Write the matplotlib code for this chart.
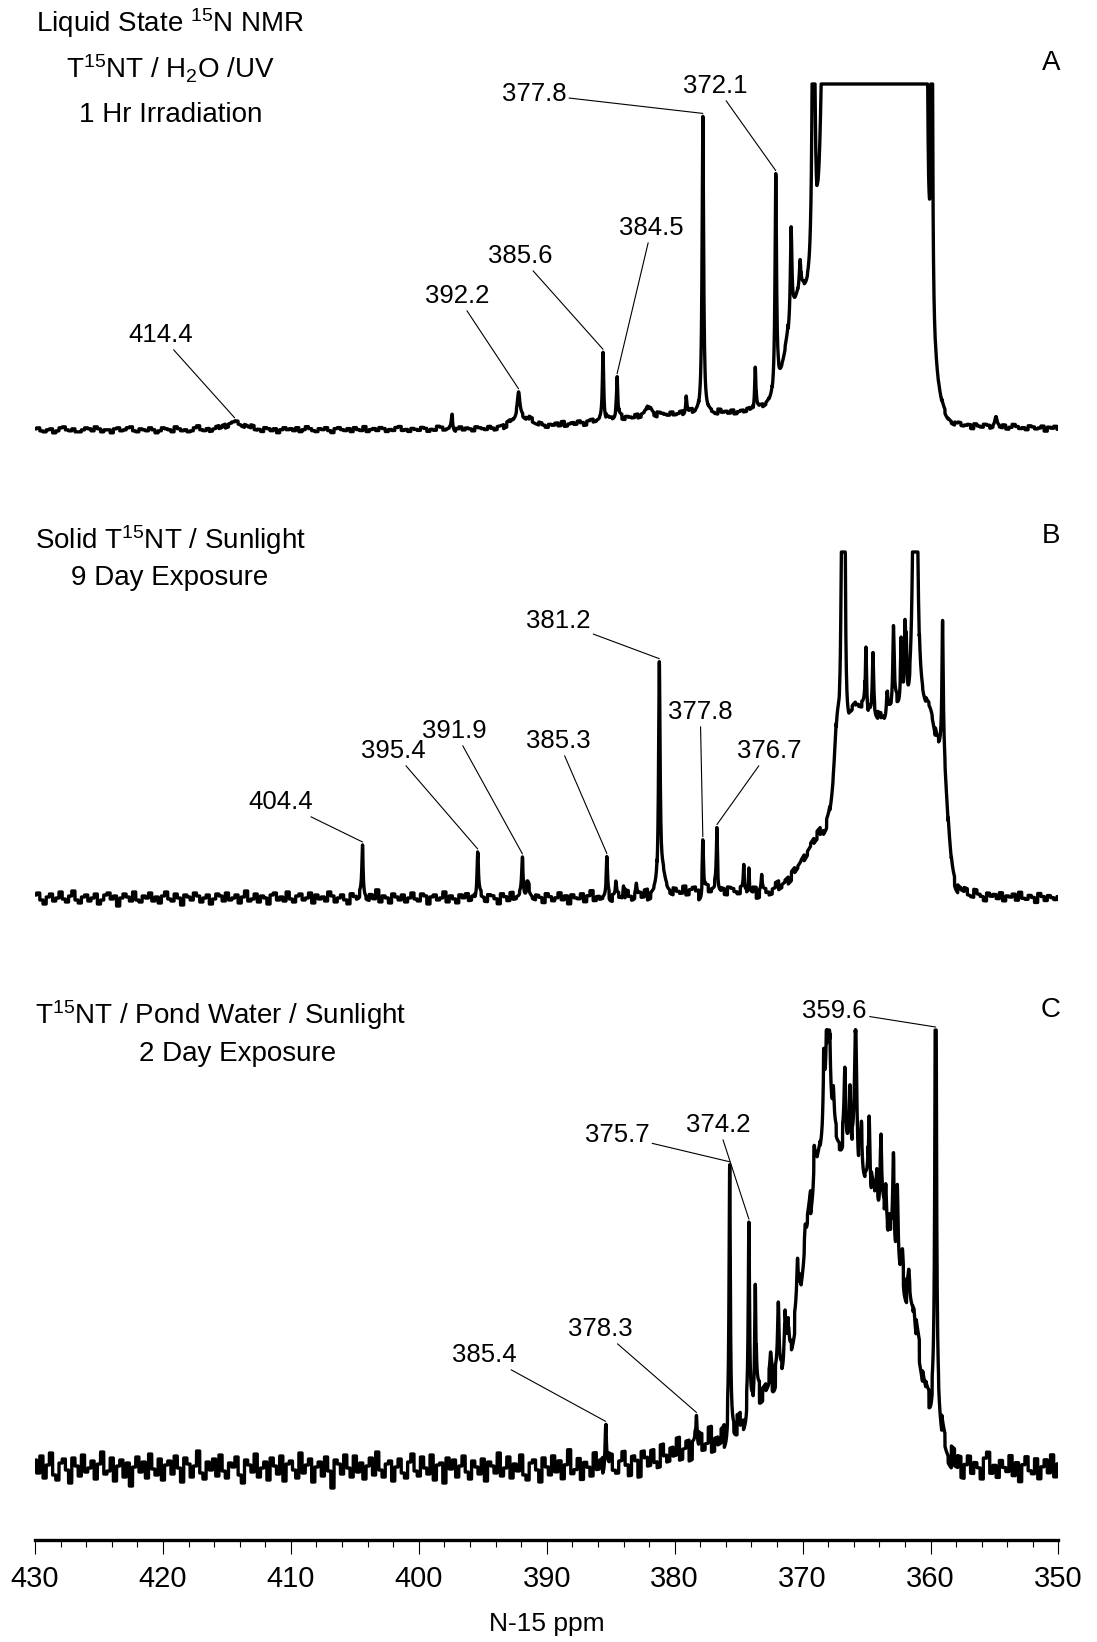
import numpy as np
import matplotlib.pyplot as plt
from matplotlib.ticker import MultipleLocator

plt.rcParams['font.family'] = ['Liberation Sans Narrow', 'Liberation Sans', 'DejaVu Sans']
plt.rcParams['mathtext.fontset'] = 'custom'
plt.rcParams['mathtext.rm'] = 'Liberation Sans'
plt.rcParams['mathtext.it'] = 'Liberation Sans:italic'
plt.rcParams['mathtext.bf'] = 'Liberation Sans:bold'

# --- spectrum A: liquid state, 1 hr UV ---
# sharp lines (ppm, height, half width) - lorentzian
a_lines = [(397.4, 14, 0.07), (392.2, 24, 0.12), (385.6, 70, 0.06), (384.5, 42, 0.06),
           (382.0, 10, 0.25), (379.1, 16, 0.06), (377.8, 295, 0.07), (373.7, 45, 0.06),
           (372.1, 215, 0.07), (370.9, 95, 0.07), (370.2, 30, 0.07), (369.15, 600, 0.08),
           (368.35, 600, 0.08), (368.0, 60, 3.0), (360.32, 600, 0.05), (359.9, 600, 0.05),
           (354.9, 10, 0.1)]
# broad bands (ppm, height, sigma) - gaussian
a_bands = [(414.4, 7, 0.8), (392.0, 10, 0.8), (380.0, 12, 6.0), (370.3, 90, 0.9),
           (366.0, 1800, 1.2), (362.8, 2000, 1.2)]
# baseline noise, one value every 0.25 ppm from 430 down to 350
a_noise = [1, 2, -1, -2, 0, 1, -3, -1, 2, 3, 0, -1, 1, -2, -2, 0, 2, 1, -1, 3,
           1, -2, 0, 0, -3, 1, 2, -1, 0, 2, 3, -1, -2, 1, 0, -1, 2, 0, -3, -1,
           2, 1, 0, -2, 3, 1, -1, 0, -2, -1, 2, 4, 0, -1, 1, -2, 0, 2, -1, 1,
           -3, 0, 1, 2, -1, -2, 1, 0, 3, -1, 0, -2, 2, 1, -1, 1, -3, 0, 2, 0,
           1, -1, 2, -2, 0, 3, 1, -1, -2, 1, 0, 2, -1, -3, 1, 2, 0, -1, 1, -2,
           2, 0, -1, 3, -2, 0, 1, -1, 2, 1, -2, 0, -1, 2, 3, -1, 0, -2, 1, 0,
           -1, 2, 1, -2, 0, -1, 3, 2, -1, 0, 1, -3, 0, 2, -1, 1, 0, -2, 2, 1,
           0, -1, 2, 0, -2, 1, 1, -3, 2, 0, -1, 2, 1, -2, 0, 3, -1, -1, 2, 0,
           -2, 1, 0, 2, -1, 3, -2, 0, 1, -1, 2, 0, -3, 1, 2, -1, 0, 1, -2, 2,
           1, -1, 0, 3, -2, 1, 0, -1, 2, -2, 1, 2, -1, 0, -3, 2, 1, 0, -1, 2,
           -1, 0, 2, -2, 1, 3, -1, 0, -2, 2, 0, 1, -1, -2, 3, 0, 1, -1, 2, -2,
           0, 1, -1, 2, 0, -3, 1, 2, -1, 1, 0, -2, 2, -1, 0, 3, -2, 1, 0, -1,
           2, -1, 1, 0, -2, 2, 1, -3, 0, 2, -1, 1, 0, -2, 3, 1, -1, 0, 2, -1,
           0, -2, 1, 2, -1, 0, 3, -1, -2, 1, 0, 2, -1, 1, -3, 0, 2, 1, -1, 0,
           2, -2, 0, 1, 3, -1, 0, -2, 1, 2, -1, 0, 1, -3, 2, 0, -1, 2, 1, -2,
           0, 1, -1, 2, -2, 0, 3, 1, -1, 0, -2, 2, 1, -1, 0, 2, -3, 1, 0, 2, -1]
a_labels = ['377.8', '372.1', '385.6', '384.5', '392.2', '414.4']
a_label_xy = [(391.0, 1446), (376.8, 1454), (392.1, 1284), (381.8, 1312), (397.0, 1244), (420.2, 1205)]

# --- spectrum B: solid, sunlight 9 days ---
b_lines = [(404.4, 48, 0.06), (395.4, 48, 0.06), (391.9, 36, 0.07), (391.5, 10, 0.2),
           (385.3, 38, 0.06), (384.6, 12, 0.05), (384.0, 14, 0.05), (383.0, 12, 0.06),
           (381.2, 230, 0.07), (380.9, 15, 0.25), (377.8, 48, 0.05), (376.7, 56, 0.05),
           (374.6, 26, 0.04), (374.2, 26, 0.04), (373.2, 16, 0.05), (367.3, 80, 0.3),
           (366.9, 500, 0.06), (366.75, 500, 0.06), (365.05, 70, 0.06), (364.5, 60, 0.06),
           (363.4, 25, 0.06), (362.9, 80, 0.06), (362.3, 60, 0.06), (362.0, 70, 0.06),
           (361.9, 50, 0.06), (361.2, 700, 0.12), (359.06, 130, 0.06), (359.0, 20, 1.0)]
b_bands = [(377.0, 8, 3.0), (370.8, 10, 1.2), (368.5, 55, 1.3), (366.0, 150, 0.9),
           (364.3, 130, 0.9), (362.5, 160, 0.9), (360.6, 150, 0.8), (359.8, 60, 0.4),
           (359.0, 90, 0.35)]
b_noise = [3, 5, -2, -6, 1, 4, -3, 0, 6, -1, -4, 2, 7, -2, -5, 1, 3, -3, 0, 4,
           -6, -2, 3, 5, -1, 2, -8, 0, 4, 1, -3, 6, -2, -4, 2, 0, 5, -3, 1, -5,
           2, 6, -1, -3, 4, 0, -7, 3, 1, -2, 5, 2, -4, 0, 3, -6, -1, 4, 2, -3,
           5, -2, 0, 3, -5, 1, 7, -3, -1, 4, -4, 2, 0, -6, 3, 5, -2, 1, -3, 6,
           -1, -4, 2, 4, -2, 0, 5, -5, 3, -1, 1, -3, 6, 2, -4, 0, 3, -2, -6, 4,
           1, -2, 5, 0, -3, 3, -1, 8, -4, 2, 0, -5, 4, 1, -2, 3, -4, 0, 5, -1,
           -3, 4, 2, -6, 1, 3, -2, 0, 6, -4, 2, -1, -5, 3, 0, 4, -3, 1, -2, 5,
           0, -4, 3, 2, -1, -6, 4, 1, -3, 5, -2, 0, 3, -4, 6, -1, -3, 2, 0, -5,
           4, 1, -3, 0, 5, -2, 2, -6, 3, 0, -1, 4, -4, 2, 7, -3, 1, -2, 0, 3,
           -5, 2, 4, -1, -3, 6, 0, -4, 1, 3, -2, 5, -6, 0, 2, -3, 4, 1, -1, -4,
           3, 0, -2, 5, -4, 1, 3, -1, -11, 2, 4, -3, 0, 6, -2, 1, -5, 3, 2, -1,
           -3, 4, 1, -2, 0, 5, -6, 2, 3, -1, -4, 1, 6, -3, 0, 2, -5, 4, -1, 1,
           2, -4, 0, 3, -2, 6, -1, -5, 4, 0, 2, -3, 1, 5, -4, -1, 3, 0, -2, 4,
           -6, 1, 3, -2, 5, 0, -3, 2, -1, 4, -5, 3, 0, -2, 6, 1, -4, 2, -1, 3,
           0, -3, 5, -1, 2, -4, 1, 3, -6, 2, 0, 4, -2, -3, 5, 1, -1, -5, 3, 0,
           2, -2, 4, -4, 1, 0, 3, -3, 5, -1, -2, 2, 0, -5, 4, 1, -3, 2, 0, -2, 1]
b_labels = ['381.2', '377.8', '376.7', '385.3', '391.9', '395.4', '404.4']
b_label_xy = [(389.1, 919), (378.0, 828), (372.6, 789), (389.1, 799), (397.2, 809), (402.0, 789), (410.8, 738)]

# --- spectrum C: pond water, sunlight 2 days ---
c_lines = [(385.4, 50, 0.06), (378.3, 33, 0.06), (375.7, 265, 0.06), (374.2, 185, 0.06),
           (373.7, 125, 0.06), (372.5, 20, 0.07), (371.9, 65, 0.07), (371.4, 45, 0.07),
           (371.1, 25, 0.07), (370.4, 40, 0.07), (369.8, 20, 0.07), (369.1, 25, 0.07),
           (368.35, 60, 0.07), (368.1, 60, 0.1), (367.95, 130, 0.12), (367.6, 30, 0.07),
           (366.7, 67, 0.07), (366.3, 70, 0.07), (365.85, 150, 0.1), (365.4, 35, 0.07),
           (364.8, 80, 0.07), (364.2, 30, 0.07), (363.9, 75, 0.07), (363.5, 40, 0.06),
           (363.2, 30, 0.07), (362.9, 90, 0.07), (362.6, 80, 0.07), (362.2, 25, 0.07),
           (361.7, 20, 0.07), (361.3, 15, 0.07), (359.6, 600, 0.06), (359.5, 40, 0.5)]
c_bands = [(376.0, 25, 4.0), (371.8, 70, 1.8), (368.8, 230, 1.2), (366.6, 230, 1.3),
           (364.0, 220, 1.4), (361.5, 110, 1.0)]
c_noise = [8, -5, 12, -10, 3, 15, -7, -12, 5, 9, -2, -15, 10, 2, -8, 13, -4, 0, 7, -11,
           4, 16, -6, -3, 10, -13, 2, 8, -9, 5, -18, 1, 11, -4, 6, -10, 14, -1, -7, 9,
           -12, 3, 7, -6, 12, 0, -14, 10, 4, -9, 2, 17, -5, -11, 6, -2, 9, -8, 13, -3,
           -10, 5, 1, 11, -7, -15, 8, 3, -4, 14, -9, 0, 6, -12, 10, 2, -6, 12, -13, 4,
           7, -2, -10, 15, -5, 3, 9, -14, 1, 6, -8, 11, -3, -20, 8, 4, -6, 13, 0, -9,
           12, -4, 5, -11, 2, 10, -7, 16, -2, -9, 4, 7, -13, 1, 9, -5, -10, 6, 14, -3,
           -8, 11, 0, -6, 13, -12, 3, 5, -15, 10, -1, 8, -9, 2, 12, -4, -11, 7, 1, -6,
           9, -13, 6, 2, -5, 15, -8, 0, 11, -10, 4, -3, 13, -7, -12, 5, 8, -2, -14, 10,
           1, -7, 12, -4, 7, -11, 3, 18, -6, -2, 9, -12, 5, 0, -9, 14, -3, 6, -10, 2,
           11, -5, -8, 4, 13, -1, -12, 7, 2, -15, 10, 3, -6, 9, -4, -10, 12, 0, -7, 6,
           -3, 14, -9, 1, 8, -13, 5, -2, 11, -6, 0, 16, -10, 3, -5, 9, -14, 6, 2, -8,
           12, -1, -11, 7, 3, -6, 13, -9, 4, -3, 10, -16, 6, 1, -8, 12, -2, -12, 9, 5,
           -7, 2, 10, -14, 6, 0, -5, 15, -10, 3, 8, -4, -11, 11, 1, -7, 6, -13, 13, -2,
           4, -9, 8, -1, -12, 14, 2, -6, 10, -8, 0, 5, -15, 9, 3, -3, 12, -10, 1, 7,
           -11, 6, 3, -5, 11, -2, -9, 13, -4, 8, -13, 1, 10, -7, 4, -1, -12, 9, 15, -6,
           2, -10, 7, 0, -4, 12, -8, 5, -14, 3, 11, -3, -6, 9, -11, 1, 8, -5, 13, -9, 4]
c_labels = ['359.6', '375.7', '374.2', '378.3', '385.4']
c_label_xy = [(367.5, 529), (384.5, 405), (376.6, 415), (385.8, 211), (394.9, 185)]

ppm = np.linspace(430, 350, 8001)


def spectrum(lines, bands, noise, clip):
    y = np.zeros_like(ppm)
    for c, h, w in lines:
        y += h * w**2 / ((ppm - c)**2 + w**2)
    for c, h, s in bands:
        y += h * np.exp(-0.5 * ((ppm - c) / s)**2)
    idx = np.round((430 - ppm) / 80 * (len(noise) - 1)).astype(int)
    y += np.asarray(noise, dtype=float)[idx]
    return np.minimum(y, clip)


fig = plt.figure(figsize=(10.97, 16.42), dpi=100)
ax = fig.add_axes([0.0319, 0.0621, 0.933, 0.9379])

panels = [
    (a_lines, a_bands, a_noise, 346, 1110, a_labels, a_label_xy, 'A', 1477,
     [('Liquid State $^{15}$N NMR', 419.4, 1517), ('T$^{15}$NT / H$_2$O /UV', 419.4, 1471),
      ('1 Hr Irradiation', 419.4, 1425)]),
    (b_lines, b_bands, b_noise, 346, 642, b_labels, b_label_xy, 'B', 1004,
     [('Solid T$^{15}$NT / Sunlight', 419.4, 1000), ('9 Day Exposure', 419.5, 962)]),
    (c_lines, c_bands, c_noise, 438, 72, c_labels, c_label_xy, 'C', 530,
     [('T$^{15}$NT / Pond Water / Sunlight', 415.5, 525), ('2 Day Exposure', 414.2, 486)]),
]

for lines, bands, noise, clip, offset, labels, label_xy, letter, ly, title in panels:
    y = spectrum(lines, bands, noise, clip) + offset
    ax.plot(ppm, y, color='black', lw=2.4)
    for lab, (tx, ty) in zip(labels, label_xy):
        p = float(lab)
        near = np.abs(ppm - p) < 0.1
        top = y[near].max()
        ax.annotate(lab, xy=(p, top + 3), xytext=(tx, ty), ha='center', va='center',
                    fontsize=18.5,
                    arrowprops=dict(arrowstyle='-', color='black', lw=0.8,
                                    shrinkA=0, shrinkB=0))
    ax.text(350.6, ly, letter, ha='center', va='center', fontsize=20)
    for s, tx, ty in title:
        ax.text(tx, ty, s, ha='center', va='center', fontsize=20)

ax.set_xlim(430, 350)
ax.set_ylim(0, 1540)
for side in ['top', 'left', 'right']:
    ax.spines[side].set_visible(False)
ax.spines['bottom'].set_linewidth(2.4)
ax.set_yticks([])
ax.xaxis.set_major_locator(MultipleLocator(10))
ax.xaxis.set_minor_locator(MultipleLocator(2))
ax.tick_params(axis='x', which='major', direction='out', length=10, width=0.8,
               labelsize=21, pad=8)
ax.tick_params(axis='x', which='minor', direction='out', length=5, width=0.8)
ax.set_xlabel('N-15 ppm', fontsize=19, labelpad=14)

fig.savefig('out.png', dpi=100)
